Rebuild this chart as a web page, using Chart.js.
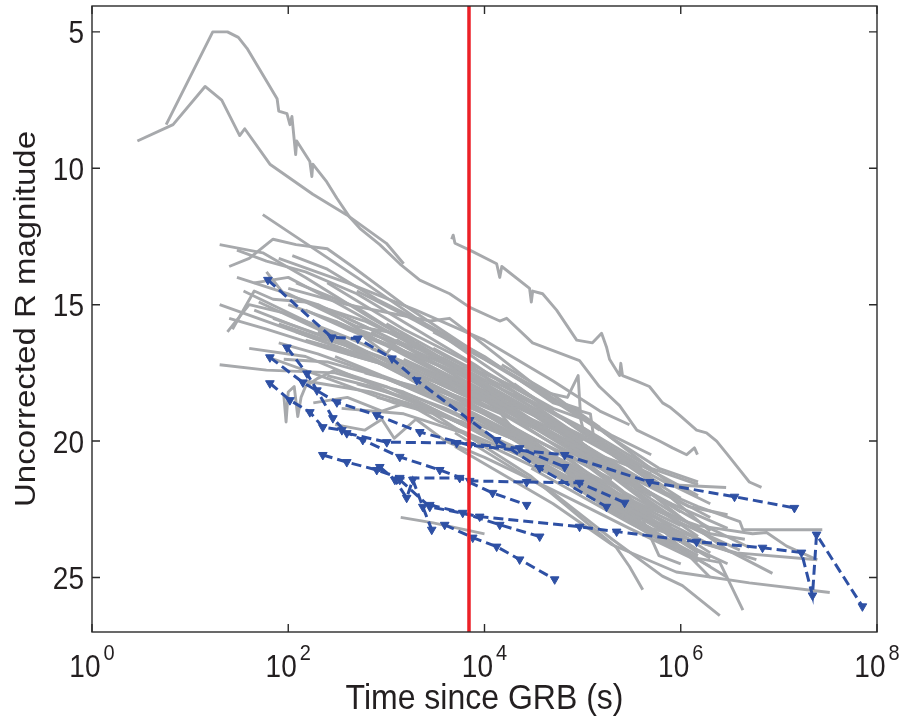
<!DOCTYPE html>
<html><head><meta charset="utf-8">
<script src="https://cdn.jsdelivr.net/npm/chart.js@4/dist/chart.umd.min.js"></script>
<style>html,body{margin:0;padding:0;background:#fff;}canvas{display:block}</style>
</head><body>
<canvas id="c" width="903" height="719"></canvas>
<script>
// ---- axis data ----
const xTickExponents = [0, 2, 4, 6, 8];
const yTickValues = [5, 10, 15, 20, 25];
const xRange = [1, 1e8];
const yRange = [4.05, 27];
const redLineTime = 6950;
const xTitle = 'Time since GRB (s)';
const yTitle = 'Uncorrected R magnitude';

// ---- detected afterglows (grey): [time s, R mag] ----
const grayCurves = [
 [[5.7,8.4],[17,5.0],[24,5.0],[31,5.2],[38,5.6],[77,7.45],[80,7.9],[97,8.0],[104,8.4],[109,8.1],[119,9.5],[122,9.0],[166,9.75],[174,10.3],[178,9.85],[247,10.5],[313,11.1],[424,11.8],[536,12.2],[857,12.8],[1370,13.5],[2190,14.1],[4420,14.6],[7080,15.1],[14300,15.6],[16800,15.5],[30900,16.4],[93000,17.05],[148000,18.0],[238000,18.7],[357000,19.6],[607000,20.0],[824000,20.25],[1150000,20.5],[1380000,20.25],[1480000,20.5]],
 [[2.9,9.0],[6.7,8.4],[14.2,7.0],[21,7.5],[32,8.8],[36,8.55],[65,9.85],[178,10.95],[392,11.7],[1000,12.75],[1500,13.5]],
 [[4630,12.6],[4800,12.45],[5000,12.75],[7080,13.0],[13300,13.5],[14300,14.0],[15000,13.6],[28800,14.4],[30000,14.9],[31000,14.5],[39100,14.6],[54300,15.2],[87000,16.3],[126000,16.4],[156000,16.05],[175000,16.55],[188000,17.0],[238000,17.6],[245000,17.15],[255000,17.6],[355000,17.8],[479000,18.0],[653000,18.6],[770000,18.75],[972000,19.05],[1450000,19.6],[1830000,19.7],[2320000,20.0],[2930000,20.45],[3970000,21.05],[5000000,21.5],[6650000,21.7]],
 [[55,11.7],[500,14.0],[10000,17.2],[50000,18.9]],
 [[20,12.8],[55,13.1],[150,14.0],[700,15.5],[3000,16.8],[20000,18.5],[100000,20.0]],
 [[25,13.6],[40,13.3],[70,12.6],[120,12.8],[250,12.95],[450,13.6],[1500,15.0],[7000,16.6],[30000,18.0],[150000,19.6]],
 [[27,15.9],[45,14.5],[70,14.8],[150,14.9],[600,15.6],[3000,16.8],[15000,18.3],[60000,19.6]],
 [[20,15.0],[100,15.9],[500,16.8],[3000,17.8],[20000,19.2],[100000,20.3],[500000,21.2]],
 [[20,17.2],[60,17.4],[300,17.5],[1500,18.2],[10000,19.5],[50000,20.5]],
 [[24,16.0],[40,15.0],[90,15.3],[400,16.2],[2000,17.3],[15000,18.8],[100000,20.6],[400000,21.8]],
 [[30,14.0],[100,14.6],[500,15.8],[1500,16.1],[5000,17.4],[30000,19.0],[200000,21.0],[1000000,22.6]],
 [[45,15.2],[120,15.8],[400,16.5],[2000,17.8],[8000,18.6],[50000,19.8],[300000,21.5],[2000000,23.2],[5000000,23.9]],
 [[60,13.8],[90,14.6],[200,15.0],[800,16.3],[4000,17.3],[20000,18.6],[100000,19.8],[600000,21.6]],
 [[100,14.4],[400,15.0],[2800,15.6],[4400,15.5],[7000,16.05],[40000,18.2],[200000,19.8],[500000,20.5]],
 [[80,16.4],[200,16.8],[700,17.5],[3000,18.4],[20000,19.8],[150000,21.4],[1000000,23.0],[4000000,24.0]],
 [[90,18.3],[95,19.3],[100,18.2],[115,18.0],[125,19.1],[135,18.4],[150,18.0],[200,17.7],[300,17.4],[1000,18.0],[5000,19.2],[30000,20.6],[200000,22.2],[1000000,23.4]],
 [[300,19.4],[600,19.6],[900,19.2],[1200,19.9],[2000,19.2],[4000,20.0],[10000,20.6],[50000,21.8],[300000,23.2],[1500000,24.4]],
 [[1400,22.8],[3000,23.0],[10000,23.4]],
 [[5000,20.2],[50000,22.3],[200000,23.8],[900000,24.8],[5000000,25.2],[33000000,25.55]],
 [[3000,17.5],[20000,19.0],[150000,20.8],[400000,21.5],[1040000,22.15],[1500000,22.4],[4000000,22.95],[4300000,23.25],[27700000,23.25]],
 [[10000,19.3],[100000,21.3],[500000,22.5],[1500000,23.1],[5400000,23.4],[7500000,23.35],[12000000,23.85],[24600000,24.35]],
 [[20000,20.3],[200000,22.3],[1500000,23.6],[3400000,24.1],[8600000,24.85]],
 [[30000,21.0],[300000,23.0],[1500000,24.3],[2500000,24.45],[4300000,26.2]],
 [[5000,19.7],[50000,21.9],[200000,23.6],[650000,24.95],[1040000,25.3],[2500000,26.4]],
 [[3000,19.0],[30000,21.3],[220000,23.9],[300000,24.6],[410000,25.45]],
 [[20000,18.2],[100000,19.5],[300000,20.8],[770000,21.6],[2900000,21.7]],
 [[5000,19.0],[50000,21.2],[500000,23.2],[3700000,24.1],[24600000,24.35]],
 [[10000,19.8],[100000,21.6],[1000000,23.5],[5900000,24.35]],
 [[35,14.5],[150,15.6],[800,16.9],[5000,18.4],[40000,20.1],[200000,21.4]],
 [[50,14.9],[200,15.9],[1000,17.2],[6000,18.9],[50000,20.7],[300000,22.3]],
 [[70,15.5],[300,16.3],[1500,17.6],[10000,19.3],[100000,21.5],[500000,22.9]],
 [[40,16.6],[150,16.9],[600,17.8],[4000,19.1],[40000,20.8],[400000,22.9]],
 [[120,14.2],[500,15.1],[2500,16.7],[15000,18.3],[80000,19.9],[400000,21.4]],
 [[200,15.0],[800,16.0],[3000,17.1],[20000,18.9],[150000,20.9],[800000,22.3]],
 [[300,15.6],[1200,16.6],[5000,17.7],[30000,19.4],[200000,21.1]],
 [[150,16.3],[600,16.9],[3000,18.0],[20000,19.6],[200000,21.9],[1000000,23.1]],
 [[400,16.8],[1500,17.4],[7000,18.6],[50000,20.3],[400000,22.5],[2000000,23.8]],
 [[600,17.5],[2500,18.1],[10000,19.0],[60000,20.7],[500000,22.8]],
 [[90,17.0],[250,17.1],[1000,17.7],[5000,18.8],[40000,20.5],[300000,22.6],[2000000,24.3]],
 [[1000,15.7],[4000,16.9],[20000,18.2],[100000,19.6],[400000,20.9],[1500000,22.0]],
 [[2000,16.4],[8000,17.7],[40000,19.2],[200000,20.8],[1000000,22.8],[3000000,24.0]],
 [[500,14.5],[2000,15.6],[8000,16.8],[40000,18.2],[70000,18.4],[90000,17.6],[95000,19.0],[150000,19.5]],
 [[3000,16.0],[10000,17.0],[50000,18.5],[90000,18.8],[100000,19.5],[500000,21.0],[1500000,21.6]],
 [[150,17.8],[700,18.2],[3000,18.9],[20000,20.2],[150000,21.7],[1000000,23.6]],
 [[25,15.5],[60,15.9],[250,16.6],[1500,17.4],[10000,18.5],[80000,20.2]],
 [[60,16.9],[250,17.7],[1200,18.6],[6000,19.3],[50000,21.1],[500000,23.3],[3000000,25.0]],
 [[15000,17.2],[50000,18.3],[200000,19.9],[600000,21.0],[1500000,21.5]],
 [[700,16.0],[3000,17.3],[15000,18.7],[100000,20.3],[600000,22.1],[3000000,23.2]],
 [[800,18.4],[3000,18.9],[12000,19.9],[60000,21.3],[400000,23.1],[1500000,24.2]],
 [[5000,17.6],[20000,18.9],[80000,20.1],[300000,21.3],[1200000,22.4],[3000000,22.7]],
 [[20000,17.9],[70000,19.3],[300000,20.9],[1000000,22.1]],
 [[350,18.8],[1500,19.0],[6000,19.7],[30000,20.9],[150000,22.0],[800000,23.7]],
 [[8000,18.3],[30000,19.6],[120000,21.0],[500000,22.7],[2000000,24.1]],
 [[110,13.2],[250,13.7],[800,14.8],[2500,15.7],[10000,16.9],[50000,18.6],[120000,19.0],[130000,19.9],[400000,21.0]],
 [[250,14.2],[1500,15.9],[6000,17.0],[30000,18.4],[200000,20.4],[700000,21.7]],
 [[80,13.3],[400,14.2],[2000,15.2],[10000,16.3],[50000,17.8],[150000,18.9],[300000,19.4]],
 [[30,13.0],[60,13.4],[150,13.8],[500,14.6],[2000,15.9],[8000,17.2],[30000,18.6],[100000,20.0]],
 [[45,14.2],[100,14.0],[300,14.9],[1500,16.3],[7000,17.7],[40000,19.5],[200000,21.3],[600000,22.6]],
 [[500,17.9],[2000,18.5],[10000,19.8],[80000,21.6],[500000,23.4],[2000000,24.6]],
 [[10000,18.1],[50000,19.8],[250000,21.8],[1000000,23.9],[2000000,25.0]],
 [[150,15.2],[400,15.9],[1000,16.5],[3000,17.4],[8000,18.2],[30000,19.3],[100000,20.4],[300000,21.2]],
 [[200,16.0],[500,16.6],[1500,17.2],[4000,17.9],[12000,18.8],[40000,19.9],[150000,21.0],[500000,22.0]],
 [[300,16.9],[900,17.6],[2500,18.2],[8000,19.0],[25000,19.9],[80000,21.0],[250000,22.2],[800000,23.1]],
 [[100,15.0],[300,15.6],[800,16.3],[2000,16.9],[6000,17.6],[20000,18.6],[60000,19.6],[200000,20.8],[700000,21.9]],
 [[400,15.5],[1200,16.3],[4000,17.0],[12000,17.9],[35000,18.9],[100000,20.1],[350000,21.5]],
 [[700,16.6],[2000,17.3],[6000,18.0],[20000,18.9],[60000,19.7],[200000,20.9],[600000,21.8],[2000000,22.8]],
 [[1500,17.0],[4000,17.7],[12000,18.4],[40000,19.5],[120000,20.5],[400000,21.9],[1200000,23.0]],
 [[120,16.0],[250,16.4],[700,17.0],[2000,17.8],[7000,18.9],[25000,20.0],[90000,21.2],[300000,22.4],[1000000,23.7]],
 [[250,17.6],[700,18.0],[2000,18.6],[6000,19.4],[20000,20.4],[70000,21.5],[250000,22.8],[900000,24.0]],
 [[2500,18.0],[6000,18.5],[15000,19.2],[50000,20.5],[150000,21.8],[500000,23.0],[1500000,24.1]],
 [[600,16.2],[1000,16.8],[1300,16.3],[2500,17.0],[5000,17.5],[7000,17.2],[15000,18.1],[50000,19.2],[150000,20.6],[400000,21.9]],
 [[80,15.7],[200,16.2],[600,16.7],[2000,17.5],[6000,18.3],[12000,18.6],[20000,19.6],[60000,20.4],[200000,21.9]],
 [[3000,16.6],[7000,17.3],[20000,18.0],[50000,18.8],[120000,19.3],[300000,20.4],[800000,21.6],[2000000,22.3]],
 [[1000,16.2],[3000,17.0],[10000,17.8],[30000,18.6],[100000,19.9],[200000,20.3],[500000,21.3]],
 [[500,15.9],[1500,16.5],[5000,17.6],[15000,18.5],[50000,19.4],[150000,20.9],[600000,22.5],[1500000,23.5]],
 [[1200,18.1],[4000,18.8],[12000,19.6],[40000,20.4],[130000,21.4],[400000,22.6],[1500000,24.0],[3000000,24.5]],
 [[8000,17.7],[25000,18.7],[70000,19.6],[200000,20.5],[600000,21.7],[2000000,23.3]],
 [[40000,19.0],[100000,20.2],[250000,21.5],[700000,22.6],[2000000,23.4],[4500000,23.6]],
 [[180,18.6],[400,18.4],[900,18.9],[1600,18.6],[3500,19.3],[9000,19.9],[30000,20.7],[100000,21.9]],
 [[50000,20.7],[150000,22.3],[400000,22.8],[600000,24.2],[1000000,24.5]]
];

// ---- upper limits (blue dashed, triangles): [time s, R mag] ----
const blueCurves = [
 [[62,14.09],[278,16.2],[512,16.24],[1140,16.97],[2040,17.77],[7070,19.23],[13300,19.96],[36500,20.99],[175000,22.41]],
 [[65,16.93],[141,17.85],[313,18.58],[798,19.05],[2190,19.67],[7070,20.15],[65600,20.51],[481000,21.5],[3530000,22.04],[14400000,22.45]],
 [[97,16.57],[155,17.52],[196,18.14],[285,19.16],[395,19.71],[1010,20.04],[5210,20.07],[22800,20.26],[65600,20.95]],
 [[65,17.88],[104,18.5],[166,18.94],[225,19.49],[352,19.6],[575,19.96],[1370,20.58],[3500,21.06],[7070,21.46],[26900,21.5],[93100,21.53],[268000,22.26]],
 [[225,20.51],[395,20.77],[798,21.06],[1370,21.35],[5590,21.35],[12100,21.9],[26900,22.34]],
 [[857,20.95],[1220,21.42],[1610,22.08],[1860,21.42],[2350,22.41],[2900,23.25]],
 [[1370,21.42],[2770,22.41],[8930,22.77],[93100,23.14],[222000,23.32],[1450000,23.69],[6810000,23.91],[17000000,24.09],[22000000,25.66],[24200000,23.43],[71000000,26.06]],
 [[2770,22.34],[6000,22.63],[14300,23.07],[36500,23.5]],
 [[3930,23.07],[7590,23.54],[13300,23.87],[22800,24.34],[51900,25.07]]
];

const GRAY = '#a7a9ac', BLUE = '#2e50a4', RED = '#ec2027', INK = '#231f20';
const FONT = '"Liberation Sans", Arial, Helvetica, sans-serif';
const toPts = c => c.map(p => ({x: p[0], y: p[1]}));

const datasets = [];
datasets.push({data: [{x: redLineTime, y: yRange[0]}, {x: redLineTime, y: yRange[1]}],
  borderColor: RED, borderWidth: 3.5, pointRadius: 0, order: 0});
blueCurves.forEach(c => datasets.push({data: toPts(c), borderColor: BLUE, borderWidth: 3,
  borderDash: [10, 5], pointStyle: 'triangle', rotation: 180, pointRadius: 5,
  pointBackgroundColor: BLUE, pointBorderColor: BLUE, pointBorderWidth: 1, order: 1}));
grayCurves.forEach(c => datasets.push({data: toPts(c), borderColor: GRAY, borderWidth: 2.9,
  borderJoinStyle: 'round', pointRadius: 0, order: 2}));

function txt(ctx, s, x, y, size, align, sy) {
  ctx.save(); ctx.translate(x, y); ctx.scale(1, sy);
  ctx.font = size + 'px ' + FONT; ctx.textAlign = align; ctx.textBaseline = 'alphabetic';
  ctx.fillText(s, 0, 0); ctx.restore();
}

const framePlugin = {
  id: 'frame',
  afterDraw(chart) {
    const {ctx, chartArea: a, scales: {x, y}} = chart;
    ctx.save();
    ctx.strokeStyle = '#2a2a2a'; ctx.lineWidth = 1.4;
    ctx.strokeRect(a.left, a.top, a.right - a.left, a.bottom - a.top);
    const L = 8;
    ctx.beginPath();
    xTickExponents.forEach(e => {
      const px = x.getPixelForValue(Math.pow(10, e));
      ctx.moveTo(px, a.bottom); ctx.lineTo(px, a.bottom - L);
      ctx.moveTo(px, a.top); ctx.lineTo(px, a.top + L);
    });
    yTickValues.forEach(v => {
      const py = y.getPixelForValue(v);
      ctx.moveTo(a.left, py); ctx.lineTo(a.left + L, py);
      ctx.moveTo(a.right, py); ctx.lineTo(a.right - L, py);
    });
    ctx.stroke();
    ctx.fillStyle = INK;
    yTickValues.forEach(v => {
      const py = y.getPixelForValue(v);
      txt(ctx, String(v), a.left - 8, py + 11.5, 28, 'right', 1.1);
    });
    xTickExponents.forEach(e => {
      const px = x.getPixelForValue(Math.pow(10, e));
      ctx.font = '28px ' + FONT; const w1 = ctx.measureText('10').width;
      ctx.font = '20px ' + FONT; const w2 = ctx.measureText(String(e)).width;
      const gap = 3;
      const start = px - (w1 + gap + w2) / 2;
      txt(ctx, '10', start, 677, 28, 'left', 1.1);
      txt(ctx, String(e), start + w1 + gap, 660, 20, 'left', 1.1);
    });
    txt(ctx, xTitle, (a.left + a.right) / 2, 709, 32, 'center', 1.1);
    ctx.save();
    ctx.translate(35, (a.top + a.bottom) / 2);
    ctx.rotate(-Math.PI / 2);
    ctx.scale(1.1, 1);
    ctx.font = '30px ' + FONT; ctx.textAlign = 'center'; ctx.textBaseline = 'alphabetic';
    ctx.fillText(yTitle, 0, 0);
    ctx.restore();
    ctx.restore();
  }
};

new Chart(document.getElementById('c'), {
  type: 'line',
  data: {datasets},
  options: {
    responsive: false, animation: false, devicePixelRatio: 1, events: [],
    layout: {padding: {left: 92, right: 26, top: 4, bottom: 87}},
    elements: {line: {tension: 0, fill: false}},
    plugins: {legend: {display: false}, tooltip: {enabled: false}},
    scales: {
      x: {type: 'logarithmic', min: xRange[0], max: xRange[1], display: false},
      y: {type: 'linear', reverse: true, min: yRange[0], max: yRange[1], display: false}
    }
  },
  plugins: [framePlugin]
});
</script>
</body></html>
